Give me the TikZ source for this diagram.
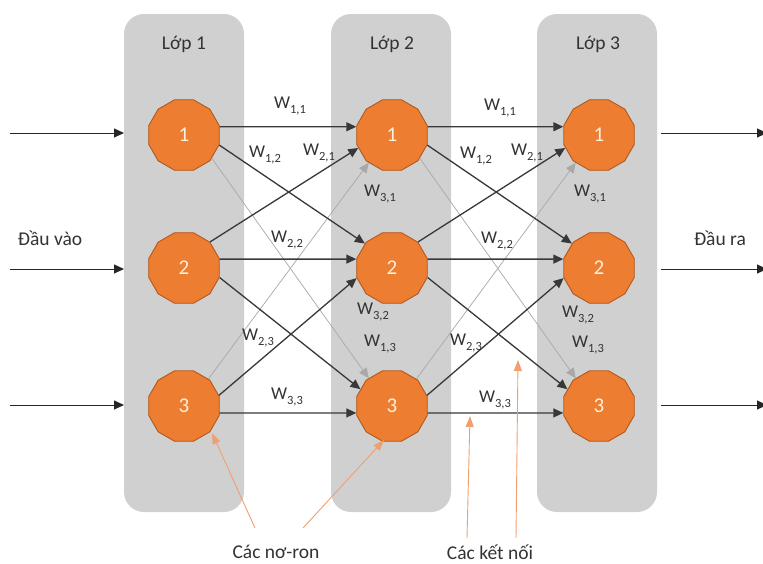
\documentclass[tikz,border=0pt]{standalone}
\usepackage{fontspec}
\setmainfont{Carlito}
\usetikzlibrary{shapes.geometric,arrows.meta}
\definecolor{panel}{HTML}{D0D0D0}
\definecolor{neuron}{HTML}{ED7D31}
\definecolor{neuronedge}{HTML}{B2581E}
\definecolor{numcol}{HTML}{FFF0DC}
\definecolor{txt}{HTML}{333333}
\definecolor{conn}{HTML}{383838}
\definecolor{faint}{HTML}{A8A8A8}
\definecolor{note}{HTML}{F0A070}
\newcommand{\wgt}[1]{W\raisebox{-0.28em}{\fontsize{12.5}{12.5}\selectfont #1}}
\begin{document}
\begin{tikzpicture}[x=1pt,y=-1pt,
 panelbox/.style={fill=panel, rounded corners=20pt},
 neuronnode/.style={regular polygon, regular polygon sides=12, minimum size=73pt, inner sep=0pt,
   fill=neuron, draw=neuronedge, line width=0.9pt, text=numcol, font=\fontsize{21}{21}\selectfont},
 lbl/.style={text=txt, font=\fontsize{19.5}{19.5}\selectfont, inner sep=0pt},
 wlbl/.style={text=txt, font=\fontsize{18}{18}\selectfont, inner sep=0pt},
 strong/.style={draw=conn, line width=1.3pt, -{Triangle[length=10pt,width=9pt]}},
 weak/.style={draw=faint, line width=0.7pt, -{Triangle[length=10pt,width=9pt,color=faint]}},
 ioarrow/.style={draw=black!85, line width=1pt, -{Triangle[length=10pt,width=9pt]}},
 notearrow/.style={draw=note, line width=0.9pt, -{Triangle[length=11pt,width=8pt]}}
]
\useasboundingbox (0,0) rectangle (763,563);
\fill[white] (0,0) rectangle (763,563);

% panels
\path[panelbox] (124,14) rectangle (244,512);
\path[panelbox] (331,14) rectangle (451,512);
\path[panelbox] (537,14) rectangle (657,512);

\node[lbl] (l1) at (184,44) {Lớp 1};
\node[lbl] (l2) at (392,44) {Lớp 2};
\node[lbl] (l3) at (598,44) {Lớp 3};

% neurons
\foreach \col/\x in {a/184,b/392,c/599}{
  \node[neuronnode] (\col1) at (\x,135) {1};
  \node[neuronnode] (\col2) at (\x,268) {2};
  \node[neuronnode] (\col3) at (\x,406) {3};
}

% connections
\foreach \p/\q in {a/b,b/c}{
  \draw[weak] (\p1.-40) -- (\q3.130);
  \draw[weak] (\p3.48) -- (\q1.230);
  \draw[strong] (\p1.13) -- (\q1.167);
  \draw[strong] (\p1.-16) -- (\q2.138);
  \draw[strong] (\p2.45) -- (\q1.201);
  \draw[strong] (\p2.14) -- (\q2.166);
  \draw[strong] (\p2.-15) -- (\q3.152);
  \draw[strong] (\p3.17) -- (\q2.196);
  \draw[strong] (\p3.-11) -- (\q3.191);
}

% weight labels, gap 1
\node[wlbl] (w11a) at (290,106) {\wgt{1,1}};
\node[wlbl] (w12a) at (265,155) {\wgt{1,2}};
\node[wlbl] (w21a) at (319,153) {\wgt{2,1}};
\node[wlbl] (w31a) at (380,194) {\wgt{3,1}};
\node[wlbl] (w22a) at (287,240) {\wgt{2,2}};
\node[wlbl] (w32a) at (373,312) {\wgt{3,2}};
\node[wlbl] (w23a) at (258,338) {\wgt{2,3}};
\node[wlbl] (w13a) at (380,344) {\wgt{1,3}};
\node[wlbl] (w33a) at (287,397) {\wgt{3,3}};
% weight labels, gap 2
\node[wlbl] (w11b) at (500,108) {\wgt{1,1}};
\node[wlbl] (w12b) at (476,156) {\wgt{1,2}};
\node[wlbl] (w21b) at (527,153) {\wgt{2,1}};
\node[wlbl] (w31b) at (590,194) {\wgt{3,1}};
\node[wlbl] (w22b) at (497,241) {\wgt{2,2}};
\node[wlbl] (w32b) at (578,315) {\wgt{3,2}};
\node[wlbl] (w23b) at (466,343) {\wgt{2,3}};
\node[wlbl] (w13b) at (588,345) {\wgt{1,3}};
\node[wlbl] (w33b) at (495,400) {\wgt{3,3}};

% inputs / outputs
\foreach \i/\y in {1/133,2/269,3/405}{
  \coordinate (in\i) at (10,\y);
  \coordinate (ine\i) at (124,\y);
  \draw[ioarrow] (in\i) -- (ine\i);
  \coordinate (out\i) at (661,\y);
  \coordinate (oute\i) at (767,\y);
  \draw[ioarrow] (out\i) -- (oute\i);
}
\node[lbl] (inlbl) at (50,238) {Đầu vào};
\node[lbl] (outlbl) at (720,238) {Đầu ra};

% annotations
\node[lbl] (neu) at (276,552) {Các nơ-ron};
\node[lbl] (con) at (490,552) {Các kết nối};
\coordinate (n1s) at (255,528);
\coordinate (n1e) at (212,433);
\coordinate (n2s) at (303,528);
\coordinate (n2e) at (384,440);
\coordinate (k1s) at (467,538);
\coordinate (k1e) at (470,416);
\coordinate (k2s) at (516,538);
\coordinate (k2e) at (518,360);
\draw[notearrow] (n1s) -- (n1e);
\draw[notearrow] (n2s) -- (n2e);
\draw[notearrow] (k1s) -- (k1e);
\draw[notearrow] (k2s) -- (k2e);
\end{tikzpicture}
\end{document}
